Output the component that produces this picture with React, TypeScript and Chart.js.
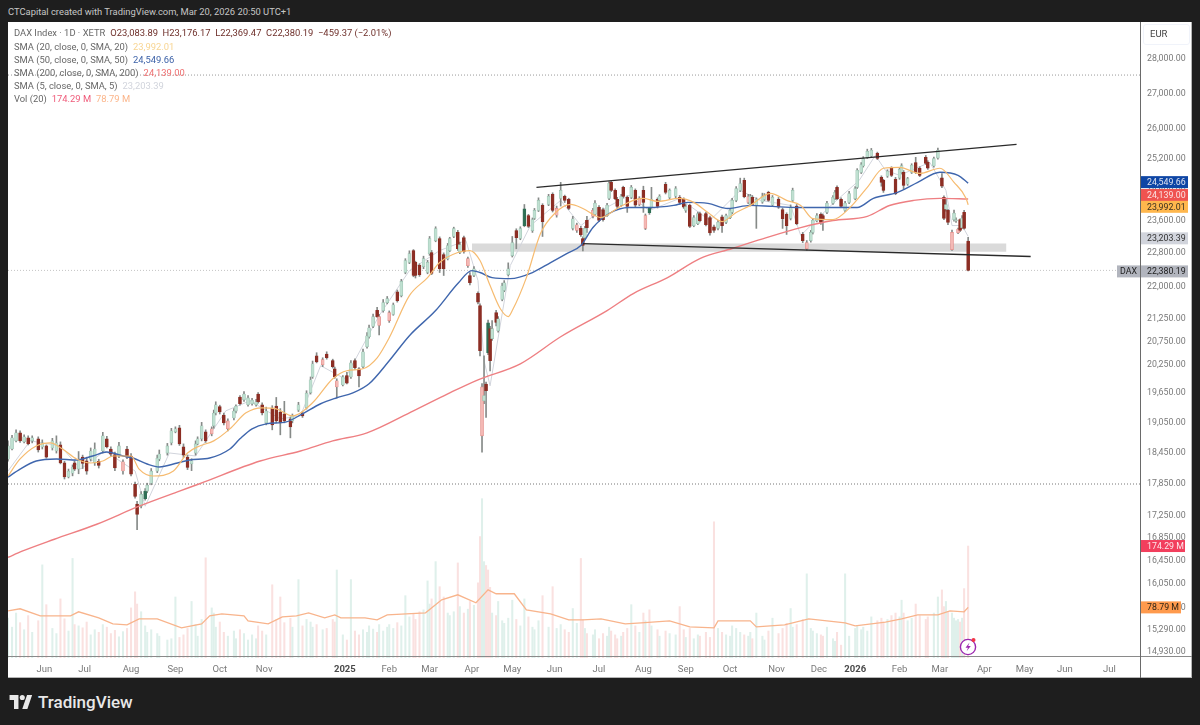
import { useEffect, useRef } from 'react';
import { Chart, registerables } from 'chart.js';
Chart.register(...registerables);

// session number, open, high, low, close, volume (M)
const candles = [
  [0,18320,18680,18280,18580,62],[2,18520,18790,18500,18740,48],[4,18680,18900,18660,18840,70],[6,18840,18880,18650,18680,55],[8,18660,18800,18640,18760,44],
  [10,18740,18780,18600,18620,66],[12,18680,18780,18640,18740,40],[15,18720,18760,18460,18500,58],[17,18560,18700,18520,18640,145],[19,18580,18600,18340,18360,83],
  [22,18540,18730,18500,18680,46],[24,18480,18780,18440,18640,38],[26,18600,18660,18230,18250,92],[28,18250,18280,17940,17980,61],[30,17980,18130,17960,18090,42],
  [32,18050,18210,18000,18170,155],[33,18250,18290,18100,18130,52],[35,18130,18470,18040,18320,50],[37,18360,18400,18140,18240,47],[39,18290,18360,18030,18090,56],
  [41,18320,18540,18290,18480,36],[43,18250,18640,18200,18520,44],[45,18280,18320,18150,18200,40],[47,18480,18850,18440,18780,52],[49,18720,18770,18540,18560,48],
  [51,18520,18560,18380,18420,38],[53,18410,18460,18100,18150,43],[55,18380,18650,18350,18580,33],[57,18093,18310,18030,18270,41],[59,18520,18570,18330,18360,46],
  [61,18380,18430,18000,18030,78],[63,17840,17880,17580,17610,103],[64,17470,17520,17000,17280,84],[66,17430,17700,17400,17650,72],[68,17570,17760,17540,17710,50],
  [69,17711,17860,17680,17820,40],[71,17860,18140,17830,18090,44],[74,18090,18400,18060,18340,38],[75,18320,18500,18290,18420,34],[79,18440,18630,18400,18580,28],
  [81,18640,18930,18600,18880,30],[83,18860,18960,18840,18920,95],[85,18940,18990,18590,18620,32],[87,18560,18620,18350,18400,36],[89,18360,18400,18120,18160,46],
  [91,18230,18330,18100,18290,88],[93,18440,18680,18400,18620,52],[94,18620,18760,18600,18720,34],[96,18720,19050,18680,18980,60],[98,18860,18900,18650,18680,156],
  [101,18820,18960,18780,18920,78],[102,18980,19300,18930,19240,70],[103,19240,19470,19200,19410,48],[105,19370,19400,19220,19260,56],[107,19200,19240,19000,19040,40],
  [109,18920,19120,18880,19080,34],[112,19140,19330,19100,19280,42],[113,19280,19410,19240,19380,30],[115,19570,19600,19400,19430,44],[117,19510,19680,19480,19630,38],
  [119,19410,19600,19380,19550,28],[121,19430,19540,19400,19500,36],[123,19410,19520,19380,19470,30],[124,19630,19660,19440,19470,50],[126,19410,19450,19200,19240,42],
  [128,19040,19360,19000,19280,36],[131,19340,19390,18900,19000,114],[133,19380,19560,19040,19080,60],[135,19260,19330,18800,19040,95],[137,19220,19480,19040,19080,55],
  [140,19120,19160,18740,18960,62],[141,19080,19220,19040,19180,48],[144,19300,19460,19270,19410,122],[146,19240,19270,19150,19180,50],[148,19350,19700,19320,19650,60],
  [150,19660,19990,19630,19930,56],[151,19990,20330,19960,20270,48],[153,20440,20510,20290,20310,52],[156,20250,20400,20210,20360,44],[158,20480,20530,20370,20400,46],
  [161,20340,20370,20180,20210,60],[162,20160,20200,19960,19990,56],[163,19780,19950,19550,19910,137],[166,19820,20020,19800,19990,36],[168,20020,20090,19840,19860,28],
  [170,19990,20340,19960,20290,122],[172,20340,20380,20150,20190,42],[174,20160,20190,19780,20010,36],[176,20210,20590,20180,20530,44],[178,20640,20950,20610,20880,40],
  [179,20860,21120,20830,21060,50],[181,21090,21370,21060,21310,45],[183,21450,21520,21290,21310,40],[184,21110,21360,20900,21310,52],[186,21447,21700,21410,21630,42],
  [188,21630,21770,21600,21720,48],[189,21220,21440,21180,21400,52],[191,21360,21620,21340,21580,46],[193,21880,21920,21640,21675,55],[195,21790,22170,21760,22120,50],
  [197,22330,22660,22300,22615,97],[199,22570,22850,22540,22780,64],[201,22856,22880,22230,22260,68],[202,22570,22600,22200,22260,60],[204,22500,22540,22240,22280,72],
  [206,22470,22720,22420,22660,75],[208,22330,22620,22300,22570,120],[209,22780,23200,22740,23150,84],[210,22810,22860,22280,22310,92],[212,23100,23440,23070,23395,150],
  [214,23150,23190,22330,22420,111],[216,22760,22800,22260,22420,95],[218,22660,23030,22630,22980,70],[219,22856,23180,22830,23150,66],[221,23200,23430,23170,23395,72],
  [223,23300,23350,22860,22900,148],[224,22810,23060,22780,23000,80],[226,23170,23210,22790,22830,70],[228,22490,22700,22450,22660,76],[229,22260,22330,22040,22090,88],
  [231,22260,22470,22230,22420,82],[233,21840,21880,21600,21640,117],[234,21560,21600,20440,20554,189],[235,18780,19850,18460,19780,248],[236,19490,20440,19430,19600,150],
  [237,19840,19880,19150,19700,144],[238,21170,21230,20470,20510,137],[239,21040,21090,20120,20336,110],[240,20820,21220,20780,21040,70],[242,21400,21450,21100,21180,66],
  [243,20995,21310,20960,21260,88],[245,21700,22080,21670,22020,58],[246,21910,22140,21880,22090,54],[248,22280,22560,22250,22420,62],[250,22735,23200,22700,23050,90],
  [252,23346,23390,22900,23170,60],[254,23150,23440,23120,23395,50],[256,23470,24000,23440,23890,92],[258,23720,23750,23420,23450,64],[260,23346,23660,23300,23620,48],
  [261,23650,23900,23620,23850,44],[263,23850,24170,23820,24105,58],[265,23980,24020,23200,23570,97],[268,24000,24260,23970,24210,48],[270,24260,24300,23810,23850,111],
  [272,23730,23960,23680,23900,46],[274,24155,24570,23960,24360,52],[276,24210,24240,24050,24105,44],[278,24130,24160,23870,23900,40],[280,23400,23700,23360,23640,77],
  [282,23350,23530,23300,23490,54],[284,23400,23450,23200,23240,155],[285,23150,23190,22850,22980,60],[286,23170,23450,23130,23400,46],[287,23600,23700,23300,23420,38],
  [290,23700,23900,23660,23850,36],[291,23750,24100,23720,24030,44],[293,23930,23970,23570,23600,30],[295,23870,23910,23580,23620,38],[297,23720,24030,23700,23980,34],
  [298,24155,24590,24120,24545,48],[299,24570,24600,24330,24360,42],[301,24360,24400,24120,24150,36],[302,24130,24180,23900,23950,30],[304,23980,24260,23950,24210,34],
  [305,24440,24470,24170,24205,40],[307,24180,24220,23800,23950,46],[309,24180,24490,24150,24440,83],[311,24360,24400,23930,23980,50],[313,24000,24200,23970,24150,40],
  [315,24360,24470,23800,24050,70],[316,23400,23760,23370,23720,58],[318,23900,23930,23750,23790,75],[319,23930,24440,23900,24130,50],[322,24130,24170,23910,23950,44],
  [323,24105,24250,24070,24210,34],[326,24520,24570,24270,24310,42],[328,24180,24400,24140,24360,38],[331,24210,24460,24170,24410,36],[333,24180,24230,24000,24050,80],
  [335,24130,24170,23900,23930,44],[336,23850,24000,23800,23950,32],[338,23980,24010,23420,23450,46],[340,23470,23720,23440,23670,30],[342,23520,23810,23490,23770,36],
  [343,23770,23810,23560,23590,34],[346,23770,23810,23460,23490,40],[348,23670,23710,23230,23290,32],[350,23440,23480,23300,23350,212],[352,23400,23600,23360,23550,46],
  [354,23690,23730,23300,23470,40],[356,23550,23760,23520,23720,36],[358,23670,23900,23640,23850,34],[359,23800,24160,23770,24105,50],[361,24105,24460,24070,24410,46],
  [363,24360,24680,24330,24540,40],[365,24620,24680,24170,24200,36],[367,24050,24260,24020,24205,34],[368,24000,24260,23960,24210,40],[369,24180,24230,23970,24000,30],
  [371,23980,24170,23400,24130,70],[374,24060,24290,24030,24210,34],[375,24130,24280,24100,24240,28],[377,24310,24340,24080,24105,42],[379,23980,24230,23950,24180,62],
  [382,24130,24180,23900,23930,38],[384,23870,23910,23400,23640,46],[386,23750,23790,23250,23470,54],[388,23650,23990,23610,23930,77],[389,24105,24420,24070,24360,48],
  [391,23960,24000,23490,23520,52],[394,23250,23300,23050,23100,60],[396,22900,23100,22860,23050,131],[398,23100,23350,23060,23300,46],[399,23300,23650,23260,23600,42],
  [401,23590,23770,23560,23720,38],[403,23750,23790,23500,23550,36],[404,23720,23760,23350,23610,34],[406,23800,24080,23770,24030,48],[409,24030,24230,24000,24180,30],
  [410,24150,24360,24120,24310,26],[411,24440,24480,24120,24150,40],[413,24130,24170,23920,23950,20],[415,23850,24080,23820,24030,131],[417,24050,24340,24020,24280,34],
  [420,24150,24460,24120,24410,46],[421,24440,24930,24410,24885,50],[423,24830,25090,24800,25040,44],[424,25000,25250,24970,25200,48],[426,25230,25450,25200,25390,42],
  [428,25260,25470,25230,25420,64],[431,25340,25370,25170,25200,58],[433,24700,24740,24470,24570,62],[434,24620,24650,24310,24360,56],[436,24730,24900,24700,24860,60],
  [438,24950,24980,24720,24750,66],[440,24650,24700,24250,24280,70],[442,24680,24950,24650,24910,64],[443,24830,25060,24800,25010,90],[444,24830,24880,24390,24490,70],
  [446,24520,24700,24490,24670,58],[448,24830,25060,24800,25020,62],[450,25090,25230,24800,24830,84],[452,24940,24980,24720,24750,66],[455,25230,25280,25040,25070,60],
  [456,25100,25140,24910,24940,64],[459,25000,25240,24970,25200,70],[461,25210,25480,25180,25420,95],[463,24690,24800,24430,24470,106],[464,24180,24220,23620,23650,80],
  [465,23880,24130,23830,24000,88],[466,23850,23880,23490,23550,72],[468,22880,23360,22860,23300,70],[469,23620,23860,23580,23780,62],[470,23590,23660,23550,23600,58],
  [471,23290,23410,23270,23380,60],[472,23620,23640,23320,23350,56],[473,23420,23720,23400,23650,62],[474,23800,23850,23380,23400,108],[476,23083.89,23176.17,22369.47,22380.19,174.29],
];
const sessions = candles.map(c => c[0]);
const opens = candles.map(c => c[1]);
const highs = candles.map(c => c[2]);
const lows = candles.map(c => c[3]);
const closes = candles.map(c => c[4]);
const volumes = candles.map(c => c[5]);

const pinkSessions = [57,101,109,156,163,184,189,228,235,272,282,290,313,316,367,396,468,471];
const darkGreenSessions = [68,238,256,318,339];

// [session, value]
const sma200 = [[0,16510],[7,16618],[23,16830],[44,17100],[65,17430],[85,17711],[95,17850],[125,18285],[145,18481],[161,18680],[178,18840],[201,19285],[218,19635],[233,19930],[254,20270],[274,20860],[297,21447],[310,21838],[327,22210],[343,22663],[359,22905],[376,23173],[393,23420],[409,23596],[426,23700],[437,23975],[449,24105],[462,24155],[476,24139]];
const sma50 = [[0,17975],[6,18130],[14,18285],[24,18325],[34,18305],[42,18383],[49,18461],[57,18383],[62,18344],[69,18227],[75,18170],[84,18247],[90,18305],[100,18344],[110,18520],[115,18720],[121,18920],[128,19020],[138,19060],[146,19224],[155,19430],[163,19553],[171,19656],[179,19846],[189,20336],[199,20884],[212,21447],[223,22070],[230,22376],[234,22330],[240,22210],[249,22187],[260,22330],[269,22567],[277,22783],[284,22978],[290,23420],[298,23772],[308,23925],[318,23925],[330,23977],[337,24054],[347,24028],[357,23900],[368,23977],[379,23951],[391,23925],[401,23925],[413,23925],[421,23925],[429,24156],[441,24310],[451,24570],[462,24833],[471,24755],[476,24549.66]];
const sma20 = [[0,17997],[6,18325],[14,18580],[21,18640],[27,18520],[34,18325],[41,18247],[47,18285],[52,18383],[61,18383],[65,18130],[72,17997],[82,18093],[89,18442],[95,18580],[102,18680],[110,18919],[118,19244],[126,19347],[133,19326],[141,19183],[151,19450],[161,19951],[168,20122],[176,20165],[183,20400],[189,20840],[199,21790],[208,22210],[214,22567],[223,22808],[229,22856],[234,22615],[239,22023],[244,21493],[248,21310],[250,21447],[257,22210],[264,23272],[271,23772],[279,24002],[285,23900],[294,23670],[302,23900],[310,24105],[315,24156],[322,24080],[333,24156],[340,24054],[347,23798],[354,23570],[361,23798],[368,23977],[378,24285],[386,24105],[393,23977],[399,23645],[409,23620],[417,23900],[426,24441],[434,24940],[442,24965],[452,24805],[462,24940],[469,24570],[475,24156],[476,23992.01]];
const sma5 = [[0,18093],[11,18680],[26,18580],[36,18130],[48,18481],[63,18093],[68,17430],[80,18442],[93,18383],[108,19285],[120,19490],[135,19120],[145,19183],[155,20230],[167,19951],[184,21333],[199,22376],[214,22856],[227,23100],[233,22140],[236,20336],[239,19803],[249,22495],[259,23470],[274,24105],[284,23470],[294,23849],[308,24233],[318,23849],[333,24156],[348,23596],[363,24361],[373,24105],[388,23977],[393,23223],[408,23977],[422,24622],[430,25283],[435,24885],[442,24755],[457,25095],[465,24361],[468,23470],[473,23470],[476,23203.39]];
const volMa = [[0,73.4],[6,76.6],[16,65.6],[24,65.6],[31,65.6],[35,71.9],[45,62.5],[52,53.1],[59,51.6],[65,60.9],[74,60.9],[86,46.9],[96,53.1],[100,65.6],[106,68.8],[117,65.6],[119,57.8],[129,53.1],[136,64],[143,65.6],[149,70.3],[157,62.5],[162,67.2],[165,62.5],[177,62.5],[183,59.4],[188,67.2],[207,70.3],[215,90.6],[223,98.4],[232,85.9],[238,106],[242,100],[251,100],[257,75],[269,68.8],[278,59.4],[285,59.4],[294,60.9],[306,53.1],[314,54.7],[328,57.8],[338,48.4],[350,46.9],[352,57.8],[368,57.8],[371,48.4],[385,51.6],[389,54.7],[397,60.9],[415,54.7],[420,50],[435,56],[443,60.9],[451,67.2],[461,67.2],[467,73.4],[474,71.9],[476,78.79]];

const upperTrend = [[262,24440],[500,25581]];
const lowerTrend = [[285,23026],[507,22712]];
const bandRange = [230,495];
const bandTop = 23025;
const bandBottom = 22830;
const levelLines = [27530,22380.19,17845];

const priceTicks = [28000,27000,26000,25200,24400,23600,22800,22000,21250,20750,20250,19650,19050,18450,17850,17250,16850,16450,16050,15650,15290,14930];
const timeTicks = [[18,'Jun'],[38,'Jul'],[61,'Aug'],[83,'Sep'],[105,'Oct'],[127,'Nov'],[167,'2025'],[189,'Feb'],[209,'Mar'],[230,'Apr'],[250,'May'],[271,'Jun'],[293,'Jul'],[315,'Aug'],[336,'Sep'],[358,'Oct'],[381,'Nov'],[402,'Dec'],[420,'2026'],[442,'Feb'],[462,'Mar'],[484,'Apr'],[504,'May'],[524,'Jun'],[546,'Jul']];

// price-axis labels, offset = px shift where labels were pushed apart
const priceBadges = [
  { text: '24,549.66', value: 24549.66, offset: -1, bg: '#0e46a5', fg: '#dfe3f0' },
  { text: '24,139.00', value: 24139, offset: -4, bg: '#ef5350', fg: '#fbe3e3' },
  { text: '23,992.01', value: 23992.01, offset: 2, bg: '#ffb74d', fg: '#3a3020' },
  { text: '23,203.39', value: 23203.39, offset: 2, bg: '#d1d4dc', fg: '#333' },
  { text: '22,380.19', value: 22380.19, offset: 1, bg: '#b2b5be', fg: '#222' },
];
const volBadges = [
  { text: '174.29 M', value: 174.29, bg: '#f23f5d', fg: '#fde8ec', w: 45 },
  { text: '78.79 M', value: 78.79, bg: '#ff9a4d', fg: '#2e2416', w: 41 },
];

const FONT = 'Roboto, sans-serif';

const toXY = (rows: number[][]) => rows.map(r => ({ x: r[0], y: r[1] }));
const isYear = (c: any) => String(c.tick?.label ?? '').startsWith('20');

const line = (data: any[], color: string, order: number, extra: any = {}) => ({
  type: 'line',
  data,
  borderColor: color,
  borderWidth: 1.3,
  pointRadius: 0,
  order,
  yAxisID: 'y',
  ...extra,
});

const badgePlugin = {
  id: 'badges',
  afterDraw(chart: any) {
    const { ctx, scales, chartArea } = chart;
    const left = chartArea.right;
    ctx.save();
    ctx.font = `8.8px ${FONT}`;
    ctx.textBaseline = 'middle';
    const box = (y: number, x: number, w: number, bg: string, fg: string, text: string) => {
      ctx.fillStyle = bg;
      ctx.fillRect(x, y - 6, w, 12);
      ctx.fillStyle = fg;
      ctx.fillText(text, x + 7, y + 0.5);
    };
    priceBadges.forEach(b => {
      box(scales.y.getPixelForValue(b.value) + b.offset, left, 48, b.bg, b.fg, b.text);
    });
    const lastY = scales.y.getPixelForValue(22380.19) + 1;
    ctx.fillStyle = '#b2b5be';
    ctx.fillRect(left - 23, lastY - 6, 23, 12);
    ctx.fillStyle = '#222';
    ctx.fillText('DAX', left - 20, lastY + 0.5);
    volBadges.forEach(b => {
      box(scales.v.getPixelForValue(b.value), left, b.w, b.bg, b.fg, b.text);
    });
    ctx.restore();
  },
};

const span = (text: string, color: string) => <span style={{ color, marginLeft: 5 }}>{text}</span>;

export default function App() {
  const canvasRef = useRef<HTMLCanvasElement>(null);

  useEffect(() => {
    document.body.style.margin = '0';
    const bodyColor = (i: number) => {
      if (pinkSessions.includes(sessions[i])) return '#f4b8b4';
      if (darkGreenSessions.includes(sessions[i])) return '#2f6f55';
      return closes[i] >= opens[i] ? '#bfe0d1' : '#8c2e24';
    };
    const bodyBorder = (i: number) => {
      if (pinkSessions.includes(sessions[i])) return '#e08a86';
      if (darkGreenSessions.includes(sessions[i])) return '#2f6f55';
      return closes[i] >= opens[i] ? '#9cc0b0' : '#8c2e24';
    };
    const chart = new Chart(canvasRef.current!, {
      type: 'bar',
      data: {
        datasets: [
          line([{ x: 0, y: levelLines[0] }, { x: 562, y: levelLines[0] }], '#9a9a9a', 11, { borderWidth: 1, borderDash: [1, 2] }),
          line([{ x: 0, y: levelLines[1] }, { x: 562, y: levelLines[1] }], '#c4c4c4', 11, { borderWidth: 1, borderDash: [1, 2] }),
          line([{ x: 0, y: levelLines[2] }, { x: 562, y: levelLines[2] }], '#777', 11, { borderWidth: 1, borderDash: [1, 2] }),
          line(bandRange.map(x => ({ x, y: bandTop })), '#dadada', 10, { borderWidth: 0, fill: '+1', backgroundColor: '#dadada' }),
          line(bandRange.map(x => ({ x, y: bandBottom })), '#dadada', 10, { borderWidth: 0 }),
          {
            type: 'bar',
            data: sessions.map((s, i) => ({ x: s, y: volumes[i] })),
            yAxisID: 'v',
            barThickness: 1.4,
            grouped: false,
            backgroundColor: sessions.map((_, i) => (closes[i] >= opens[i] ? '#dff0eb' : '#fae1e0')),
            order: 9,
          },
          line(toXY(volMa), '#f8b48c', 8, { borderWidth: 1.3, yAxisID: 'v' }),
          line(toXY(sma5), '#d1d4dc', 7, { borderWidth: 1 }),
          {
            type: 'bar',
            data: sessions.map((s, i) => ({ x: s, y: [lows[i], highs[i]] })),
            yAxisID: 'y',
            barThickness: 1,
            grouped: false,
            backgroundColor: '#868a88',
            order: 6,
          },
          {
            type: 'bar',
            data: sessions.map((s, i) => ({ x: s, y: [opens[i], closes[i]] })),
            yAxisID: 'y',
            barThickness: 3,
            grouped: false,
            minBarLength: 1,
            backgroundColor: sessions.map((_, i) => bodyColor(i)),
            borderColor: sessions.map((_, i) => bodyBorder(i)),
            borderWidth: 0.6,
            borderSkipped: false,
            order: 5,
          },
          line(toXY(sma200), '#ee7f82', 4, { borderWidth: 1.4, cubicInterpolationMode: 'monotone' }),
          line(toXY(sma50), '#3f66ad', 3, { borderWidth: 1.4, cubicInterpolationMode: 'monotone' }),
          line(toXY(sma20), '#f6bb70', 2, { borderWidth: 1.2, cubicInterpolationMode: 'monotone' }),
          line(toXY(upperTrend), '#2a2a2a', 1, { borderWidth: 1.3 }),
          line(toXY(lowerTrend), '#2a2a2a', 1, { borderWidth: 1.3 }),
        ] as any,
      },
      options: {
        responsive: false,
        animation: false,
        events: [],
        layout: { padding: 0 },
        plugins: { legend: { display: false }, tooltip: { enabled: false } },
        scales: {
          x: {
            type: 'linear',
            offset: false,
            min: 0,
            max: 561.2,
            grid: { display: false, drawTicks: false },
            border: { display: false },
            afterBuildTicks: (s: any) => { s.ticks = timeTicks.map(t => ({ value: t[0] })); },
            afterFit: (s: any) => { s.height = 20; s.paddingLeft = 0; s.paddingRight = 0; },
            ticks: {
              autoSkip: false,
              maxRotation: 0,
              padding: 6,
              callback: (v: any) => timeTicks.find(t => t[0] === v)?.[1] as string,
              color: (c: any) => (isYear(c) ? '#4a4a4a' : '#7a7a7a'),
              font: (c: any) => ({ family: FONT, size: 9.5, weight: isYear(c) ? 700 : 400 }),
            },
          },
          y: {
            type: 'logarithmic',
            position: 'right',
            min: 14839,
            max: 29123,
            grid: { display: false, drawTicks: false },
            border: { display: false },
            afterBuildTicks: (s: any) => {
              s.ticks = priceTicks.map(value => ({ value }));
              s.min = 14839;
              s.max = 29123;
            },
            afterFit: (s: any) => { s.width = 52; s.paddingTop = 0; s.paddingBottom = 0; },
            ticks: {
              autoSkip: false,
              padding: 7,
              color: '#7a7a7a',
              font: { family: FONT, size: 8.8 },
              callback: (v: any) => Number(v).toLocaleString('en-US', { minimumFractionDigits: 2, maximumFractionDigits: 2 }),
            },
          },
          v: {
            type: 'linear',
            display: false,
            min: 0,
            max: 990,
          },
        },
      } as any,
      plugins: [badgePlugin],
    });
    return () => chart.destroy();
  }, []);

  const abs = (left: number, top: number): React.CSSProperties => ({ position: 'absolute', left, top, lineHeight: '14px', whiteSpace: 'nowrap' });

  return (
    <div style={{ position: 'absolute', left: 0, top: 0, width: 1200, height: 725, background: '#1e1e1e', fontFamily: FONT, overflow: 'hidden' }}>
      <div style={{ ...abs(8, 5), color: '#c6c6c6', fontSize: 9.4 }}>CTCapital created with TradingView.com, Mar 20, 2026 20:50 UTC+1</div>
      <div style={{ position: 'absolute', left: 8, top: 22, width: 1183, height: 655, background: '#fff', borderRight: '1px solid #b5b5b5', borderBottom: '1px solid #b5b5b5' }} />
      <canvas ref={canvasRef} width={1184} height={656} style={{ position: 'absolute', left: 8, top: 22 }} />
      <div style={{ position: 'absolute', left: 8, top: 656, width: 1184, height: 1, background: '#8a8a8a' }} />
      <div style={{ position: 'absolute', left: 1140, top: 22, width: 1, height: 656, background: '#6a6a6a' }} />
      <div style={{ position: 'absolute', left: 1143, top: 24, width: 45, height: 19, border: '1px solid #f0f3fa', borderRadius: 3 }} />
      <div style={{ ...abs(1150, 27), color: '#444', fontSize: 9.5 }}>EUR</div>
      <div style={{ color: '#666', fontSize: 9.4 }}>
        <div style={abs(14, 26)}>DAX Index · 1D · XETR<span style={{ color: '#6e2f2a', marginLeft: 5 }}>O23,083.89 &nbsp;H23,176.17 &nbsp;L22,369.47 &nbsp;C22,380.19 &nbsp;−459.37 (−2.01%)</span></div>
        <div style={abs(14, 40)}>SMA (20, close, 0, SMA, 20){span('23,992.01', '#f8d592')}</div>
        <div style={abs(14, 53)}>SMA (50, close, 0, SMA, 50){span('24,549.66', '#3d62a8')}</div>
        <div style={abs(14, 66)}>SMA (200, close, 0, SMA, 200){span('24,139.00', '#ee6f70')}</div>
        <div style={abs(14, 79)}>SMA (5, close, 0, SMA, 5){span('23,203.39', '#d1d4dc')}</div>
        <div style={abs(14, 92)}>Vol (20){span('174.29 M', '#ef5b7a')}{span('78.79 M', '#fbb58a')}</div>
      </div>
      <svg width={22} height={22} viewBox="0 0 22 22" style={{ position: 'absolute', left: 957, top: 635 }}>
        <circle cx={11} cy={12} r={7.6} fill="#fff" stroke="#9c27b0" strokeWidth={1.4} />
        <path d="M12.5 7.5 L8.5 12.7 H11 L9.6 16.3 L13.8 11 H11.2 Z" fill="#9c27b0" />
        <circle cx={16.5} cy={5} r={2} fill="#f23645" />
      </svg>
      <svg width={24} height={14} viewBox="0 0 36 22" style={{ position: 'absolute', left: 9, top: 695 }}>
        <path d="M14 22H7V8H0V0h14v22zM28 22h-8l7.5-22h8L28 22z" fill="#e8e8e8" />
        <circle cx={20} cy={4} r={4} fill="#e8e8e8" />
      </svg>
      <div style={{ ...abs(38, 692), color: '#e8e8e8', fontSize: 17, lineHeight: '20px', fontWeight: 500 }}>TradingView</div>
    </div>
  );
}
